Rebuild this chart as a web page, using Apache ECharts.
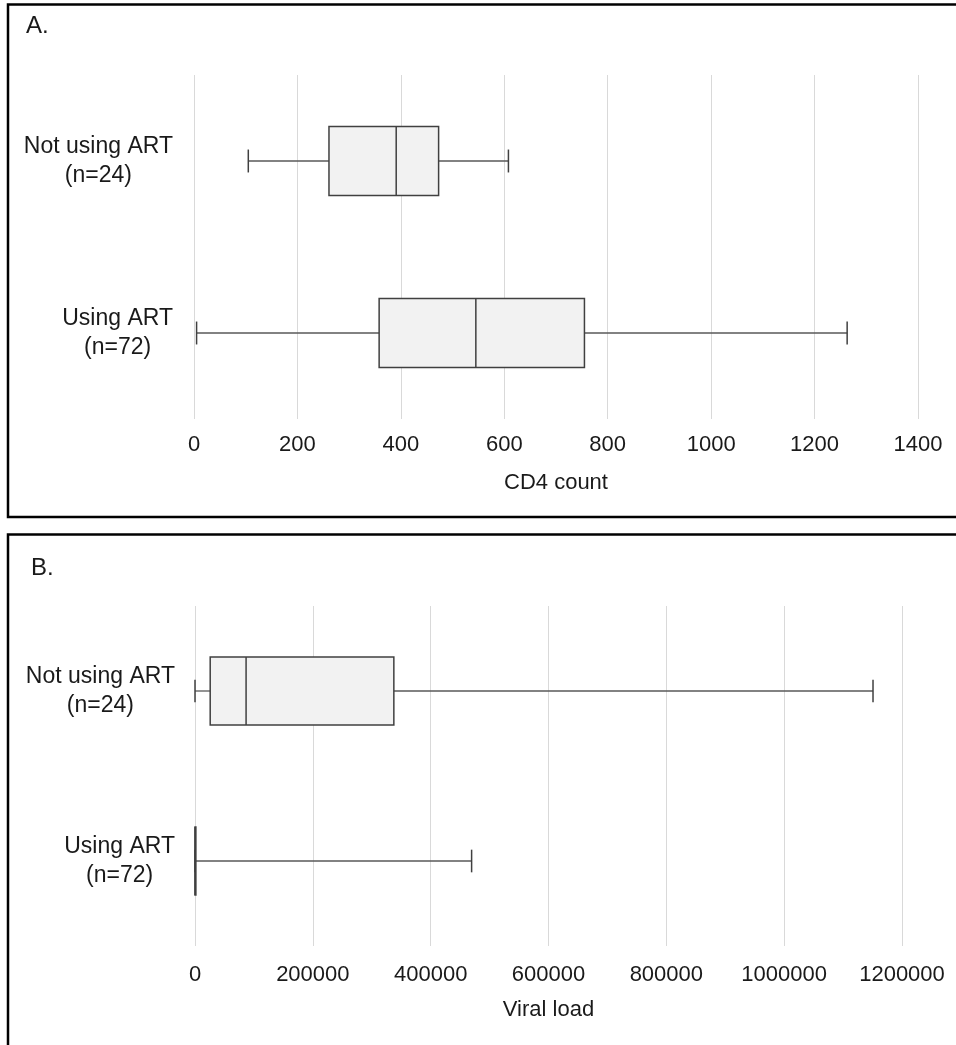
<!DOCTYPE html>
<html>
<head>
<meta charset="utf-8">
<script src="https://cdn.jsdelivr.net/npm/echarts@6/dist/echarts.min.js"></script>
<style>
html,body{margin:0;padding:0;background:#fff;}
#chart{width:956px;height:1045px;}
</style>
</head>
<body>
<div id="chart"></div>
<script>
// ---- data ----
var categories = ['Not using ART\n(n=24)', 'Using ART\n(n=72)'];
// [min, Q1, median, Q3, max]
var cd4Stats = [
  [105, 261, 391, 473, 608],
  [5, 358, 545, 755, 1263]
];
var viralStats = [
  [0, 25800, 86700, 337500, 1150800],
  [0, 0, 200, 1500, 469500]
];
var cd4Ticks = { min: 0, max: 1400, interval: 200 };
var viralTicks = { min: 0, max: 1200000, interval: 200000 };

var FONT = "'Liberation Sans', Arial, sans-serif";
var TXT = '#1a1a1a';

function toRows(stats) {
  return stats.map(function (s, i) { return [i].concat(s); });
}

function renderBox(params, api) {
  var cat = api.value(0);
  var pMin = api.coord([api.value(1), cat]);
  var pQ1 = api.coord([api.value(2), cat]);
  var pMed = api.coord([api.value(3), cat]);
  var pQ3 = api.coord([api.value(4), cat]);
  var pMax = api.coord([api.value(5), cat]);
  var band = api.size([0, 1])[1];
  var hh = band * 0.2;
  var ch = hh / 3;
  var y = pMed[1];
  var wStyle = { stroke: '#595959', lineWidth: 1.3 };
  var bStyle = { stroke: '#404040', lineWidth: 1.5 };
  return {
    type: 'group',
    children: [
      { type: 'line', shape: { x1: pMin[0], y1: y, x2: pQ1[0], y2: y }, style: wStyle },
      { type: 'line', shape: { x1: pQ3[0], y1: y, x2: pMax[0], y2: y }, style: wStyle },
      { type: 'line', shape: { x1: pMin[0], y1: y - ch, x2: pMin[0], y2: y + ch }, style: bStyle },
      { type: 'line', shape: { x1: pMax[0], y1: y - ch, x2: pMax[0], y2: y + ch }, style: bStyle },
      { type: 'rect', shape: { x: pQ1[0], y: y - hh, width: Math.max(pQ3[0] - pQ1[0], 0.5), height: hh * 2 },
        style: { fill: '#f2f2f2', stroke: '#404040', lineWidth: 1.5 } },
      { type: 'line', shape: { x1: pMed[0], y1: y - hh, x2: pMed[0], y2: y + hh }, style: bStyle }
    ]
  };
}

function catAxis(gridIndex, margin) {
  return {
    type: 'category', gridIndex: gridIndex, data: categories, inverse: true,
    axisLine: { show: false }, axisTick: { show: false }, splitLine: { show: false },
    axisLabel: {
      margin: margin, color: TXT, fontFamily: FONT, fontSize: 23, lineHeight: 29,
      formatter: function (v) {
        return v.split('\n').map(function (l) { return '{c|' + l + '}'; }).join('\n');
      },
      rich: { c: { align: 'center', fontFamily: FONT, fontSize: 23, lineHeight: 29, color: TXT } }
    }
  };
}

function valAxis(gridIndex, t, name, labelMargin, nameGap) {
  return {
    type: 'value', gridIndex: gridIndex, min: t.min, max: t.max, interval: t.interval,
    axisLine: { show: false }, axisTick: { show: false },
    splitLine: { show: true, lineStyle: { color: '#d9d9d9', width: 1 } },
    axisLabel: { margin: labelMargin, color: TXT, fontFamily: FONT, fontSize: 22,
      formatter: function (v) { return String(v); } },
    name: name, nameLocation: 'middle', nameGap: nameGap,
    nameTextStyle: { color: TXT, fontFamily: FONT, fontSize: 22 }
  };
}

var chart = echarts.init(document.getElementById('chart'), null, { renderer: 'canvas' });
chart.setOption({
  backgroundColor: '#fff',
  animation: false,
  grid: [
    { left: 194, right: 38, top: 75, height: 344 },
    { left: 195, right: 54, top: 606, height: 340 }
  ],
  xAxis: [
    valAxis(0, cd4Ticks, 'CD4 count', 15, 53),
    valAxis(1, viralTicks, 'Viral load', 18, 53)
  ],
  yAxis: [catAxis(0, 21), catAxis(1, 20)],
  series: [
    { type: 'custom', xAxisIndex: 0, yAxisIndex: 0, renderItem: renderBox,
      encode: { x: [1, 2, 3, 4, 5], y: 0 }, data: toRows(cd4Stats) },
    { type: 'custom', xAxisIndex: 1, yAxisIndex: 1, renderItem: renderBox,
      encode: { x: [1, 2, 3, 4, 5], y: 0 }, data: toRows(viralStats) }
  ],
  graphic: [
    { type: 'rect', shape: { x: 8, y: 4.5, width: 1000, height: 512.5 },
      style: { fill: null, stroke: '#000', lineWidth: 2.5 }, silent: true },
    { type: 'rect', shape: { x: 8, y: 534.5, width: 1000, height: 600 },
      style: { fill: null, stroke: '#000', lineWidth: 2.5 }, silent: true },
    { type: 'text', left: 26, top: 14, style: { text: 'A.', fill: TXT, font: '24px ' + FONT } },
    { type: 'text', left: 31, top: 556, style: { text: 'B.', fill: TXT, font: '24px ' + FONT } }
  ]
});
</script>
</body>
</html>
